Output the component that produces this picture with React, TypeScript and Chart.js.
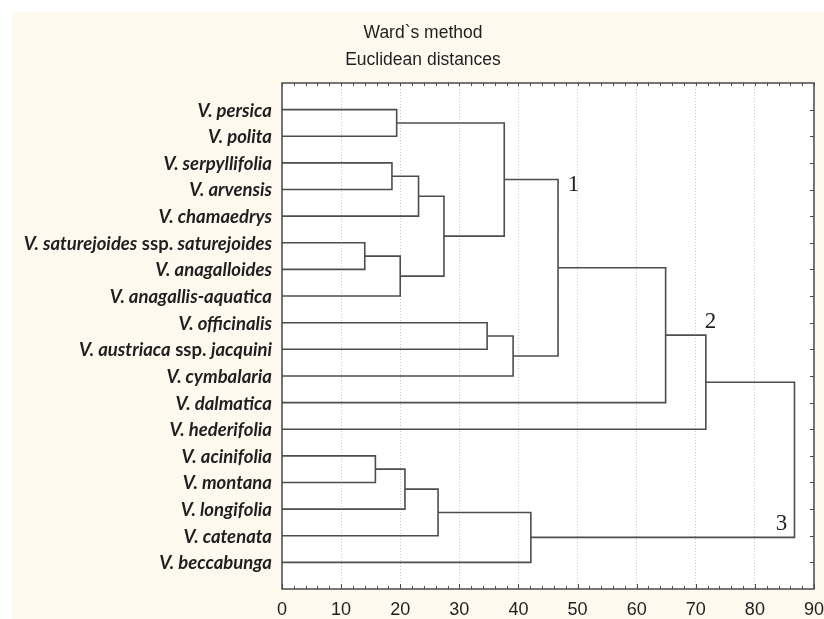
import React, { useEffect, useRef } from 'react';
import { Chart, registerables } from 'chart.js';

Chart.register(...registerables);

// ---- data ----
const leafLabels = [
  'V. persica',
  'V. polita',
  'V. serpyllifolia',
  'V. arvensis',
  'V. chamaedrys',
  'V. saturejoides ssp. saturejoides',
  'V. anagalloides',
  'V. anagallis-aquatica',
  'V. officinalis',
  'V. austriaca ssp. jacquini',
  'V. cymbalaria',
  'V. dalmatica',
  'V. hederifolia',
  'V. acinifolia',
  'V. montana',
  'V. longifolia',
  'V. catenata',
  'V. beccabunga',
];

// merges: node index of left child, right child, linkage distance (leaves 0..17, merges 18..)
const mergeLeft = [0, 2, 19, 5, 21, 20, 18, 8, 25, 24, 27, 28, 13, 30, 31, 32, 29];
const mergeRight = [1, 3, 4, 6, 7, 22, 23, 9, 10, 26, 11, 12, 14, 15, 16, 17, 33];
const mergeHeight = [19.4, 18.6, 23.1, 14.0, 20.0, 27.4, 37.6, 34.7, 39.1, 46.7, 64.9, 71.7, 15.8, 20.8, 26.4, 42.1, 86.7];

const xMin = 0;
const xMax = 90;
const xStep = 10;
const xMinorStep = 2;

const titleLines = ['Ward`s method', 'Euclidean distances'];

const clusterNames = ['1', '2', '3'];
const clusterX = [49.3, 72.5, 84.5];
const clusterY = [3.83, 8.99, 16.54];

// ---- build dendrogram segments ----
function buildPoints() {
  const nodeY: number[] = leafLabels.map((_, i) => i + 1);
  const nodeH: number[] = leafLabels.map(() => 0);
  const pts: { x: number; y: number | null }[] = [];
  mergeLeft.forEach((a, k) => {
    const b = mergeRight[k];
    const h = mergeHeight[k];
    pts.push({ x: nodeH[a], y: nodeY[a] });
    pts.push({ x: h, y: nodeY[a] });
    pts.push({ x: h, y: nodeY[b] });
    pts.push({ x: nodeH[b], y: nodeY[b] });
    pts.push({ x: h, y: null });
    nodeY.push((nodeY[a] + nodeY[b]) / 2);
    nodeH.push(h);
  });
  return pts;
}

const LINE = '#4d4d4d';
const FRAME = '#4a4a4a';
const TEXT = '#1f1f1f';

const decoPlugin = {
  id: 'deco',
  beforeDraw(chart: any) {
    const { ctx, chartArea: a, width, height } = chart;
    ctx.save();
    ctx.fillStyle = '#fdf9ee';
    ctx.fillRect(0, 0, width, height);
    ctx.fillStyle = '#ffffff';
    ctx.fillRect(a.left, a.top, a.right - a.left, a.bottom - a.top);
    ctx.restore();
  },
  afterDraw(chart: any) {
    const { ctx, chartArea: a } = chart;
    const xs = chart.scales.x;
    const ys = chart.scales.y;
    ctx.save();
    // frame
    ctx.strokeStyle = FRAME;
    ctx.lineWidth = 1.5;
    ctx.strokeRect(a.left, a.top, a.right - a.left, a.bottom - a.top);
    // inward ticks top/bottom
    ctx.lineWidth = 1;
    ctx.beginPath();
    for (let v = xMin; v <= xMax + 1e-9; v += xMinorStep) {
      const px = Math.round(xs.getPixelForValue(v)) + 0.5;
      const major = Math.abs(v % xStep) < 1e-9;
      const len = major ? 5 : 3;
      ctx.moveTo(px, a.bottom);
      ctx.lineTo(px, a.bottom - len);
      ctx.moveTo(px, a.top);
      ctx.lineTo(px, a.top + 3);
    }
    // inward ticks right side at each leaf
    leafLabels.forEach((_, i) => {
      const py = Math.round(ys.getPixelForValue(i + 1)) + 0.5;
      ctx.moveTo(a.right, py);
      ctx.lineTo(a.right - 4, py);
    });
    ctx.stroke();

    // leaf labels (italic bold, "ssp." upright)
    ctx.fillStyle = TEXT;
    ctx.textBaseline = 'middle';
    ctx.textAlign = 'left';
    const italic = 'italic bold 18.5px Lato';
    const upright = 'bold 18.5px Lato';
    leafLabels.forEach((lab, i) => {
      const py = ys.getPixelForValue(i + 1) + 1;
      const parts = lab.split(/( ssp\. )/);
      const segs = parts.map((p) => ({ t: p, f: p === ' ssp. ' ? upright : italic }));
      let total = 0;
      segs.forEach((s) => {
        ctx.font = s.f;
        total += ctx.measureText(s.t).width;
      });
      let x = a.left - 10 - total;
      segs.forEach((s) => {
        ctx.font = s.f;
        ctx.fillText(s.t, x, py);
        x += ctx.measureText(s.t).width;
      });
    });

    // cluster numbers
    ctx.font = '23px "Liberation Serif"';
    ctx.textAlign = 'center';
    ctx.fillStyle = '#222';
    clusterNames.forEach((n, i) => {
      ctx.fillText(n, xs.getPixelForValue(clusterX[i]), ys.getPixelForValue(clusterY[i]));
    });
    ctx.restore();
  },
};

export default function App() {
  const ref = useRef<HTMLCanvasElement | null>(null);
  useEffect(() => {
    if (!ref.current) return;
    const chart = new Chart(ref.current, {
      type: 'scatter',
      data: {
        datasets: [
          {
            data: buildPoints() as any,
            showLine: true,
            spanGaps: false,
            borderColor: LINE,
            borderWidth: 1.6,
            pointRadius: 0,
            pointHoverRadius: 0,
            tension: 0,
          },
        ],
      },
      options: {
        responsive: false,
        animation: false,
        events: [],
        layout: { autoPadding: false, padding: { left: 19, right: 9, top: 0, bottom: 0 } },
        plugins: {
          legend: { display: false },
          tooltip: { enabled: false },
          title: {
            display: true,
            text: titleLines,
            color: TEXT,
            font: { family: '"Liberation Sans", Arial, sans-serif', size: 17.5, weight: 'normal', lineHeight: 27 / 17.5 },
            padding: { top: 8, bottom: 9 },
          },
        },
        scales: {
          x: {
            type: 'linear',
            position: 'bottom',
            min: xMin,
            max: xMax,
            ticks: {
              stepSize: xStep,
              color: TEXT,
              padding: 0,
              maxRotation: 0,
              font: { family: '"Liberation Sans", Arial, sans-serif', size: 18, lineHeight: 1 },
            },
            grid: {
              display: true,
              drawTicks: true,
              tickLength: 12,
              tickColor: 'rgba(0,0,0,0)',
              color: '#c9c9c9',
              lineWidth: 1,
            },
            border: { display: false, dash: [1, 2] },
            afterFit(scale: any) {
              scale.height = 30;
            },
          },
          y: {
            type: 'linear',
            position: 'left',
            min: 0,
            max: leafLabels.length + 1,
            reverse: true,
            ticks: { display: false },
            grid: { display: false },
            border: { display: false },
            afterFit(scale: any) {
              scale.width = 251;
            },
          },
        },
      },
      plugins: [decoPlugin],
    });
    return () => chart.destroy();
  }, []);
  return (
    <div style={{ position: 'absolute', left: 12, top: 12, width: 812, height: 607 }}>
      <canvas ref={ref} width={812} height={607} style={{ display: 'block', width: 812, height: 607 }} />
    </div>
  );
}
